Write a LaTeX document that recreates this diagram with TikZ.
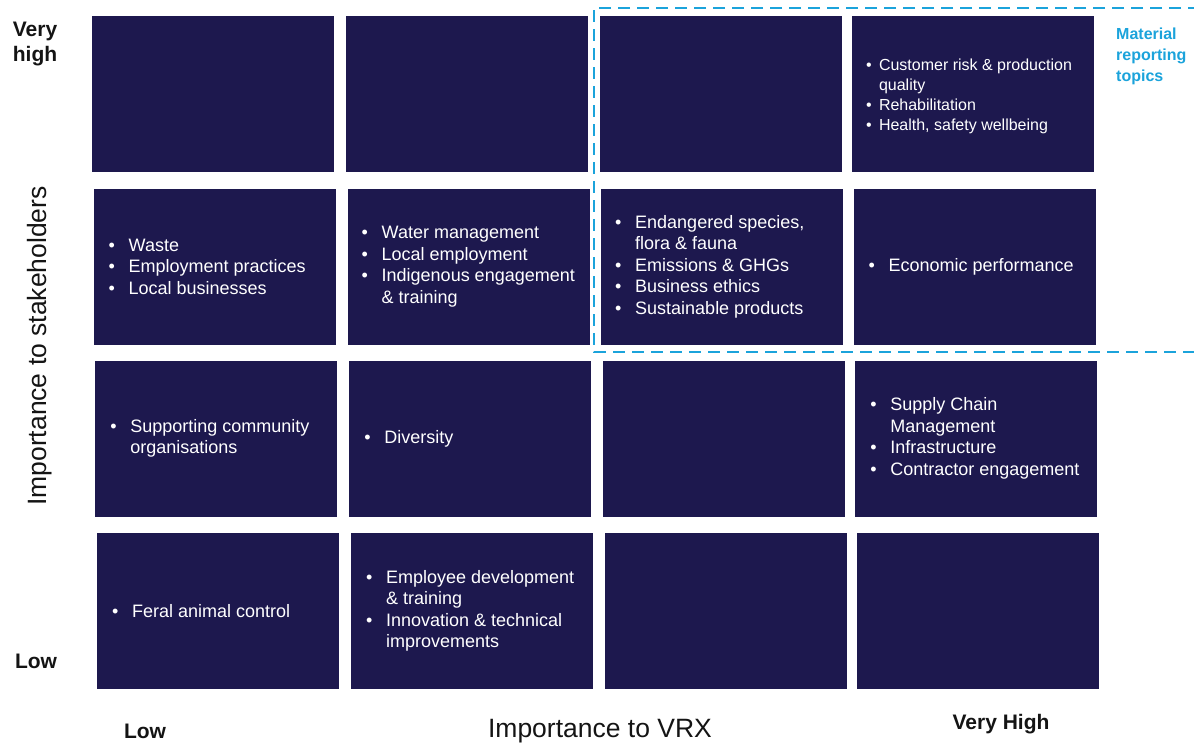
\documentclass[tikz,border=0pt]{standalone}
\usepackage{fontspec}
\setmainfont{Liberation Sans}
\usetikzlibrary{positioning}
\definecolor{navy}{RGB}{29,24,78}
\definecolor{matblue}{RGB}{27,163,219}
\definecolor{lbl}{RGB}{20,20,20}
\newcommand{\bul}{\makebox[20pt][l]{\textbullet}}
\newcommand{\ind}{\hspace*{20pt}}
\newcommand{\sbul}{\makebox[13pt][l]{\textbullet}}
\newcommand{\sind}{\hspace*{13pt}}

\begin{document}
\begin{tikzpicture}[x=1pt,y=-1pt,
    cell/.style={fill=navy,minimum width=242pt,minimum height=156pt,inner sep=0pt},
    topic/.style={text=white,align=left,inner sep=0pt,anchor=west,
      font=\fontsize{18}{21.5}\selectfont},
    axis/.style={text=lbl,inner sep=0pt,font=\fontsize{26.5}{30}\selectfont},
    level/.style={text=lbl,inner sep=0pt,align=center,
      font=\bfseries\fontsize{21}{25}\selectfont}]
  \useasboundingbox (0,0) rectangle (1194,745);

  % grid of cells, one row slightly shifted from the next
  \node[cell] (b11) at (213,94) {};
  \node[cell] (b12) at (467,94) {};
  \node[cell] (b13) at (720.5,94) {};
  \node[cell] (b14) at (973,94) {};
  \node[cell] (b21) at (214.7,266.5) {};
  \node[cell] (b22) at (468.7,266.5) {};
  \node[cell] (b23) at (722.2,266.5) {};
  \node[cell] (b24) at (974.7,266.5) {};
  \node[cell] (b31) at (216.4,438.5) {};
  \node[cell] (b32) at (470.4,438.5) {};
  \node[cell] (b33) at (723.9,438.5) {};
  \node[cell] (b34) at (976.4,438.5) {};
  \node[cell] (b41) at (218.1,611) {};
  \node[cell] (b42) at (472.1,611) {};
  \node[cell] (b43) at (725.6,611) {};
  \node[cell] (b44) at (978.1,611) {};

  % topics
  \node[topic,font=\fontsize{16}{20}\selectfont] (t14) at ([xshift=14,yshift=-2]b14.west)
    {\sbul Customer risk \& production\\ \sind quality\\ \sbul Rehabilitation\\
     \sbul Health, safety wellbeing};
  \node[topic] (t21) at ([xshift=15]b21.west)
    {\bul Waste\\ \bul Employment practices\\ \bul Local businesses};
  \node[topic] (t22) at ([xshift=14]b22.west)
    {\bul Water management\\ \bul Local employment\\ \bul Indigenous engagement\\
     \ind \& training};
  \node[topic] (t23) at ([xshift=14]b23.west)
    {\bul Endangered species,\\ \ind flora \& fauna\\ \bul Emissions \& GHGs\\
     \bul Business ethics\\ \bul Sustainable products};
  \node[topic] (t24) at ([xshift=15]b24.west) {\bul Economic performance};
  \node[topic] (t31) at ([xshift=15]b31.west)
    {\bul Supporting community\\ \ind organisations};
  \node[topic] (t32) at ([xshift=15]b32.west) {\bul Diversity};
  \node[topic] (t34) at ([xshift=15]b34.west)
    {\bul Supply Chain\\ \ind Management\\ \bul Infrastructure\\
     \bul Contractor engagement};
  \node[topic] (t41) at ([xshift=15]b41.west) {\bul Feral animal control};
  \node[topic] (t42) at ([xshift=15]b42.west)
    {\bul Employee development\\ \ind \& training\\ \bul Innovation \& technical\\
     \ind improvements};

  % material topics frame
  \draw[matblue,line width=1.8pt,dash pattern=on 12pt off 7pt]
    (1200,8) -- (594,8) -- (594,352) -- (1200,352);
  \node[text=matblue,inner sep=0pt,anchor=west,align=left,
    font=\bfseries\fontsize{16}{21}\selectfont] (mat) at (1116,56)
    {Material\\ reporting\\ topics};

  % axes
  \node[level] (vhigh) at (35,44) {Very\\ high};
  \node[level] (low1) at (36,661) {Low};
  \node[axis,rotate=90] (yaxis) at (40,346) {Importance to stakeholders};
  \node[level] (low2) at (145,731) {Low};
  \node[axis] (xaxis) at (600,731) {Importance to VRX};
  \node[level] (vhigh2) at (1001,724) {Very High};
\end{tikzpicture}
\end{document}
